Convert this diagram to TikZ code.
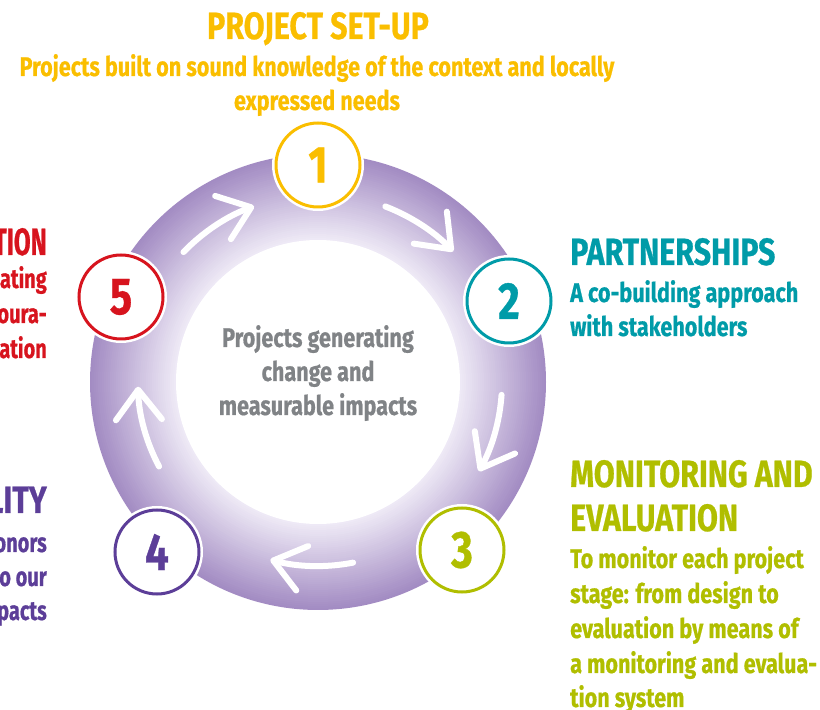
\documentclass[tikz,border=0pt]{standalone}
\usepackage{fontspec}
\usetikzlibrary{arrows.meta,calc}
\newfontfamily\cf{Fira Sans}[FakeStretch=0.8, FakeBold=0.6]
\newfontfamily\cfh{Fira Sans}[FakeStretch=0.64, FakeBold=0.6]
\newfontfamily\cfl{Fira Sans}[FakeStretch=0.74, FakeBold=0.6]
\definecolor{cgold}{RGB}{250,190,0}
\definecolor{cteal}{RGB}{0,155,168}
\definecolor{cgreen}{RGB}{176,190,0}
\definecolor{cred}{RGB}{215,20,30}
\definecolor{cpurple}{RGB}{92,62,152}
\definecolor{cgray}{RGB}{128,131,134}
\definecolor{ringout}{RGB}{163,140,195}
\definecolor{ringin}{RGB}{240,236,247}
\begin{document}
\begin{tikzpicture}[x=1pt,y=1pt,
  num/.style={circle, draw=#1, line width=3pt, fill=white, minimum size=84pt, inner sep=0pt, text=#1,
    font=\cf\bfseries\fontsize{52}{52}\selectfont, preaction={draw=white, line width=8pt}},
  flow/.style={draw=white, line width=6pt, line cap=round, -{Straight Barb[length=30pt,width=46pt,round]}},
  hd/.style={font=\cf\bfseries\fontsize{38}{40}\selectfont, inner sep=0pt},
  bd/.style={font=\cf\bfseries\fontsize{27}{34}\selectfont, inner sep=0pt},
  lhd/.style={font=\cfh\bfseries\fontsize{38}{40}\selectfont, inner sep=0pt, anchor=base east},
  lbd/.style={font=\cfl\bfseries\fontsize{27}{34}\selectfont, inner sep=0pt, anchor=base east},
]
\useasboundingbox (0,0) rectangle (820,710);
\coordinate (C) at (318,328);
% ring
\foreach \i in {0,...,43} {
  \pgfmathtruncatemacro\pc{100*\i/43}
  \fill[ringin!\pc!ringout] (C) circle[radius=228-2*\i];
}
\fill[white] (C) circle[radius=142];
% arrows
\draw[flow] ($(C)+(69:188)$) arc[start angle=69, end angle=44, radius=188];
\draw[flow] ($(C)+(-4:184)$) arc[start angle=-4, end angle=-29, radius=184];
\draw[flow] ($(C)+(-79:184)$) arc[start angle=-79, end angle=-105, radius=184];
\draw[flow] ($(C)+(-152:180)$) arc[start angle=-152, end angle=-178.5, radius=180];
\draw[flow] ($(C)+(136:187)$) arc[start angle=136, end angle=110, radius=187];
% numbered circles
\node[num=cgold]   (n1) at (318,545) {1};
\node[num=cteal]   (n2) at (509,409) {2};
\node[num=cgreen]  (n3) at (462,160) {3};
\node[num=cpurple] (n4) at (157,158) {4};
\node[num=cred]    (n5) at (121,413) {5};
% centre
\node[bd, text=cgray, anchor=base] (c1) at (318,363) {Projects generating};
\node[bd, text=cgray, anchor=base] (c2) at (318,329) {change and};
\node[bd, text=cgray, anchor=base] (c3) at (318,295) {measurable impacts};
% top
\node[hd, text=cgold, anchor=base] (t0) at (318,671) {PROJECT SET-UP};
\node[bd, text=cgold, anchor=base] (t1) at (317,634) {Projects built on sound knowledge of the context and locally};
\node[bd, text=cgold, anchor=base] (t2) at (317,600) {expressed needs};
% right 2
\node[hd, text=cteal, anchor=base west] (p0) at (570,445) {PARTNERSHIPS};
\node[bd, text=cteal, anchor=base west] (p1) at (570,408) {A co-building approach};
\node[bd, text=cteal, anchor=base west] (p2) at (570,374) {with stakeholders};
% right 3
\node[hd, text=cgreen, anchor=base west] (m0) at (570,223) {MONITORING AND};
\node[hd, text=cgreen, anchor=base west] (m1) at (570,179) {EVALUATION};
\node[bd, text=cgreen, anchor=base west] (m2) at (570,142) {To monitor each project};
\node[bd, text=cgreen, anchor=base west] (m3) at (570,107) {stage: from design to};
\node[bd, text=cgreen, anchor=base west] (m4) at (570,72) {evaluation by means of};
\node[bd, text=cgreen, anchor=base west] (m5) at (570,37) {a monitoring and evalua-};
\node[bd, text=cgreen, anchor=base west] (m6) at (570,3) {tion system};
% left 5
\node[lhd, text=cred] (r0) at (47,455) {TION};
\node[lbd, text=cred] (r1) at (47,422) {ating};
\node[lbd, text=cred] (r2) at (47,387) {oura-};
\node[lbd, text=cred] (r3) at (47,352) {ation};
% left 4
\node[hd, text=cpurple, anchor=base east] (a0) at (47,197) {LITY};
\node[lbd, text=cpurple] (a1) at (47,158) {onors};
\node[lbd, text=cpurple] (a2) at (47,124) {o our};
\node[lbd, text=cpurple] (a3) at (47,90) {pacts};
\end{tikzpicture}
\end{document}
